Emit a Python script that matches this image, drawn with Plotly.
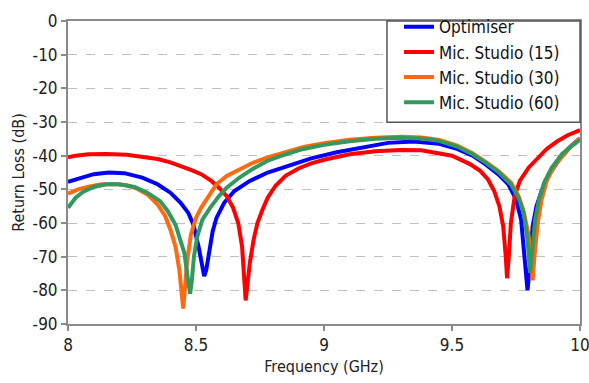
import plotly.graph_objects as go

# ---- data ----
opt_f = [8.0, 8.05, 8.1, 8.16, 8.22, 8.29, 8.35, 8.40, 8.44, 8.47, 8.49, 8.51, 8.525, 8.532, 8.54, 8.55, 8.565, 8.58, 8.61, 8.65, 8.71, 8.78, 8.85, 8.95, 9.05, 9.15, 9.25, 9.35, 9.45, 9.52, 9.58, 9.63, 9.68, 9.72, 9.75, 9.77, 9.785, 9.795, 9.805, 9.815, 9.83, 9.85, 9.88, 9.92, 9.96, 10.0]
opt_db = [-47.8, -46.5, -45.5, -45.0, -45.2, -46.5, -48.5, -51.0, -54.0, -57.0, -60.5, -67, -74, -75.8, -74, -69, -62.5, -58.5, -54.0, -50.5, -47.5, -45.0, -43.2, -40.8, -39.0, -37.5, -36.2, -35.8, -36.5, -38.0, -40.0, -42.5, -45.5, -48.5, -53, -59, -70, -80, -72, -61, -55, -50.5, -45.5, -41.0, -37.5, -34.8]

ms15_f = [8.0, 8.03, 8.08, 8.15, 8.23, 8.30, 8.35, 8.40, 8.44, 8.48, 8.52, 8.56, 8.59, 8.62, 8.645, 8.665, 8.68, 8.69, 8.694, 8.70, 8.71, 8.725, 8.74, 8.76, 8.78, 8.81, 8.85, 8.90, 8.95, 9.0, 9.1, 9.2, 9.3, 9.38, 9.45, 9.5, 9.57, 9.61, 9.64, 9.665, 9.685, 9.70, 9.71, 9.715, 9.722, 9.73, 9.745, 9.765, 9.80, 9.83, 9.87, 9.91, 9.95, 10.0]
ms15_db = [-40.5, -40.0, -39.6, -39.5, -39.7, -40.3, -41.0, -42.0, -43.0, -44.2, -45.5, -47.5, -49.5, -52, -55.5, -60, -67, -77, -83, -79, -72, -65, -60, -56, -52.5, -49, -46, -43.8, -42.3, -41.2, -39.6, -38.7, -38.3, -38.4, -39.3, -40.0, -42.5, -44.5, -47, -50.5, -55, -61, -70, -76.4, -70, -60, -52, -47.5, -43.5, -41.0, -38.0, -35.8, -34.0, -32.4]

ms30_f = [8.0, 8.04, 8.08, 8.13, 8.18, 8.23, 8.27, 8.31, 8.35, 8.38, 8.40, 8.42, 8.435, 8.445, 8.45, 8.456, 8.465, 8.48, 8.50, 8.52, 8.55, 8.58, 8.62, 8.67, 8.72, 8.78, 8.85, 8.92, 9.0, 9.1, 9.2, 9.3, 9.38, 9.45, 9.52, 9.58, 9.63, 9.68, 9.73, 9.76, 9.78, 9.80, 9.81, 9.815, 9.822, 9.835, 9.85, 9.87, 9.90, 9.94, 9.97, 10.0]
ms30_db = [-51.3, -50.0, -49.2, -48.5, -48.4, -48.8, -49.8, -51.5, -54.5, -58, -62, -67, -74, -81, -85.4, -80, -71.5, -63.5, -58.5, -55.5, -52, -48.5, -46, -44, -42.2, -40.5, -38.8, -37.4, -36.3, -35.3, -34.7, -34.4, -34.6, -35.3, -37, -39.3, -41.8, -44.5, -48, -52, -56.5, -64, -72, -77, -70, -60, -53, -47.5, -43, -39.2, -36.8, -34.8]

ms60_f = [8.0, 8.03, 8.06, 8.10, 8.15, 8.20, 8.26, 8.31, 8.36, 8.39, 8.42, 8.44, 8.455, 8.467, 8.477, 8.484, 8.492, 8.505, 8.525, 8.555, 8.59, 8.62, 8.67, 8.72, 8.78, 8.85, 8.92, 9.0, 9.1, 9.2, 9.3, 9.38, 9.45, 9.52, 9.58, 9.63, 9.68, 9.73, 9.76, 9.78, 9.795, 9.805, 9.812, 9.825, 9.84, 9.86, 9.89, 9.93, 9.97, 10.0]
ms60_db = [-55.5, -52.5, -50.7, -49.3, -48.5, -48.5, -49.3, -51.0, -53.5, -56.5, -60.5, -65, -69, -76, -81, -77, -70, -64, -59, -55.5, -52, -49.5, -46.5, -44, -41.5, -39.6, -38, -36.8, -35.7, -35.0, -34.7, -34.9, -35.6, -37.3, -39.6, -42, -44.8, -48.5, -52.5, -57, -65, -74.8, -68, -59, -53, -48, -43.5, -39.5, -37, -35.3]

series_names = ["Optimiser", "Mic. Studio (15)", "Mic. Studio (30)", "Mic. Studio (60)"]
series_colors = ["#0000FF", "#FF0000", "#FF6A10", "#33985E"]

x_tickvals = [8, 8.5, 9, 9.5, 10]
x_ticktext = ["8", "8.5", "9", "9.5", "10"]
y_tickvals = [0, -10, -20, -30, -40, -50, -60, -70, -80, -90]
y_ticktext = ["0", "-10", "-20", "-30", "-40", "-50", "-60", "-70", "-80", "-90"]

FONT = "DejaVu Sans Condensed, Liberation Sans Narrow, sans-serif"

fig = go.Figure()
for fx, fy, name, color in zip([opt_f, ms15_f, ms30_f, ms60_f],
                               [opt_db, ms15_db, ms30_db, ms60_db],
                               series_names, series_colors):
    fig.add_trace(go.Scatter(x=fx, y=fy, mode="lines", name=name,
                             line=dict(color=color, width=4)))

axis_common = dict(showline=True, linecolor="#8a8a8a", linewidth=2, mirror=True,
                   ticks="outside", ticklen=5, tickcolor="#8a8a8a", tickwidth=1.5,
                   tickfont=dict(size=17, color="#222", family=FONT),
                   zeroline=False, automargin=False, ticklabeloverflow="allow")

fig.update_layout(
    width=589, height=383,
    margin=dict(l=68, r=9, t=13, b=59),
    paper_bgcolor="white", plot_bgcolor="white",
    font=dict(family=FONT, color="#222"),
    xaxis=dict(range=[8, 10], tickvals=x_tickvals, ticktext=x_ticktext,
               showgrid=False,
               title=dict(text="Frequency (GHz)", font=dict(size=16, family=FONT), standoff=6),
               **axis_common),
    yaxis=dict(range=[-90, 0], tickvals=y_tickvals, ticktext=y_ticktext,
               showgrid=True, gridcolor="#c0c0c0", griddash="dash", gridwidth=1.2,
               title=dict(text="Return Loss (dB)", font=dict(size=16, family=FONT), standoff=4),
               **axis_common),
    legend=dict(x=0.6465, y=1.0386, xanchor="left", yanchor="top",
                bgcolor="rgba(0,0,0,0)", borderwidth=0,
                font=dict(size=17, family=FONT, color="#111"),
                tracegroupgap=0),
    showlegend=True,
    shapes=[dict(type="rect", xref="paper", yref="paper",
                 x0=0.623, x1=1.0, y0=0.666, y1=1.0,
                 line=dict(color="#555", width=1.5), fillcolor="white", layer="above")],
)

fig.write_html("out.html")
